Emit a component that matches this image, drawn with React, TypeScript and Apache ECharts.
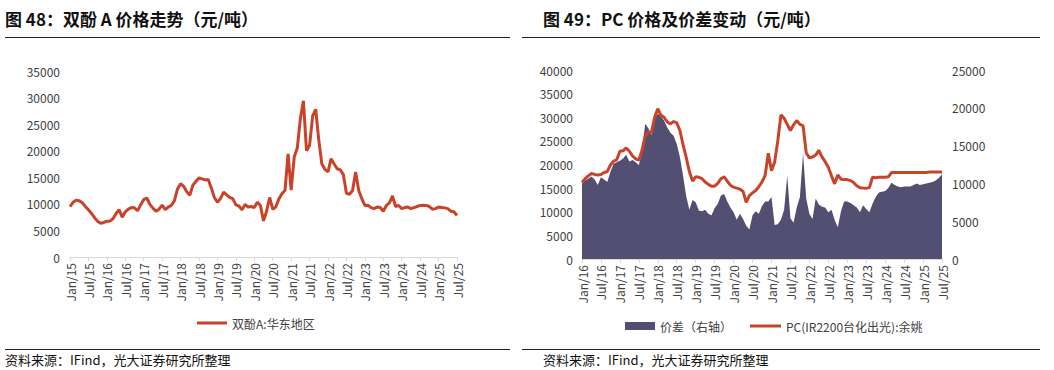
import React, { useEffect, useRef } from "react";
import * as echarts from "echarts";

const MONTH_NAMES = ["Jan", "Feb", "Mar", "Apr", "May", "Jun", "Jul", "Aug", "Sep", "Oct", "Nov", "Dec"];

// Left chart: 双酚A 华东地区, monthly Jan/15 - Jul/25 (元/吨)
const bpaPrice = [
  9500, 10300, 10700, 10600, 10200, 9500, 8900, 8200, 7400, 6700, 6350, 6500,
  6750, 6750, 7200, 8200, 8900, 7500, 8500, 9000, 9300, 9250, 8700, 9800,
  10800, 11100, 9900, 9200, 8600, 9000, 9750, 8900, 9400, 9700, 10600, 12800,
  13800, 13300, 12300, 11600, 13500, 14200, 14900, 14700, 14500, 14600, 13000, 11200,
  10300, 11000, 12200, 11700, 11200, 11000, 9800, 9600, 8900, 9900, 9400, 9500,
  9300, 10300, 9700, 6800, 8600, 11200, 9000, 9400, 10900, 11900, 12500, 19400,
  12600, 18800, 20500, 26000, 29400, 20000, 21000, 26500, 27800, 22000, 17500, 16500,
  16000, 18500, 17500, 16600, 16400, 15500, 12000, 11800, 12500, 16000, 12500, 11000,
  9700, 9750, 9300, 9100, 9400, 9300, 8600, 9700, 10200, 11500, 9500, 9700,
  9100, 9300, 9400, 9100, 9300, 9500, 9700, 9750, 9700, 9500, 9000, 9100,
  9400, 9300, 9250, 9100, 8600, 8500, 7800,
];

// Right chart: PC price (left axis) and spread (right axis), monthly Jan/16 - Jul/25
const pcPrice = [
  16200, 17000, 17600, 18100, 17900, 17800, 17900, 18300, 18500, 19900, 20700, 21000,
  22800, 22900, 23500, 22800, 21800, 21200, 20900, 23000, 26000, 26900, 26800, 30000,
  31800, 30400, 30000, 29000, 28600, 29100, 28800, 27200, 24200, 21500, 18500, 16500,
  17400, 17300, 17000, 16300, 15800, 15400, 15400, 16000, 17000, 17400, 16500, 15600,
  15200, 15000, 14800, 14300, 12000, 13400, 14000, 14500, 15300, 16300, 17700, 22400,
  18700, 20500, 25000, 30500, 29800, 28500, 27200, 28400, 29300, 28500, 28200, 22500,
  21400, 21600, 22000, 23000, 21600, 20600, 19400, 17600, 15900, 17800, 16900, 16800,
  16800, 16600, 16200, 15500, 15100, 15000, 14950, 15100, 17300, 17200, 17300, 17300,
  17300, 17400, 18300, 18300, 18300, 18300, 18300, 18300, 18300, 18300, 18300, 18300,
  18300, 18300, 18400, 18400, 18400, 18400, 18400,
];

const pcSpread = [
  10000, 10400, 10600, 10900, 10500, 9800, 10800, 10500, 10200, 11500, 12600, 12800,
  13000, 13300, 13800, 12900, 13100, 12800, 12400, 14200, 17900, 17300, 16400, 18600,
  19200, 18900, 18300, 17400, 16700, 16300, 15200, 13500, 11000, 8300, 6500, 7800,
  7500, 6400, 6300, 6500, 6000, 5800, 6700, 7300, 8400, 8600, 7600, 6800,
  6200, 5200, 6000, 5300, 4400, 3900, 5800, 6300, 6000, 7000, 7600, 7600,
  8200, 4500, 4600, 5200, 6500, 11000, 5400, 4800, 6800, 8200, 14000, 8000,
  6000, 5300, 8000, 7200, 6900, 6800, 6200, 6500, 5200, 4200, 6300, 7600,
  7600, 7400, 7100, 6800, 6200, 7100, 6600, 6200, 7300, 8200, 8800, 8900,
  9000, 9400, 10100, 9800, 9600, 9500, 9600, 9600, 9600, 9800, 10000, 9800,
  9900, 10000, 10100, 10200, 10400, 10700, 11200,
];

const leftTicks = [0, 5000, 10000, 15000, 20000, 25000, 30000, 35000];
const rightLeftTicks = [0, 5000, 10000, 15000, 20000, 25000, 30000, 35000, 40000];
const rightRightTicks = [0, 5000, 10000, 15000, 20000, 25000];

const leftTitle = "图 48：双酚 A 价格走势（元/吨）";
const rightTitle = "图 49：PC 价格及价差变动（元/吨）";
const sourceText = "资料来源：IFind，光大证券研究所整理";
const bpaName = "双酚A:华东地区";
const spreadName = "价差（右轴）";
const pcName = "PC(IR2200台化出光):余姚";

function monthLabels(startYear: number, count: number): string[] {
  const out: string[] = [];
  for (let i = 0; i < count; i++) {
    const y = startYear + Math.floor(i / 12);
    out.push(MONTH_NAMES[i % 12] + "/" + String(y % 100).padStart(2, "0"));
  }
  return out;
}

const leftCats = monthLabels(2015, bpaPrice.length);
const rightCats = monthLabels(2016, pcPrice.length);

const FONT = '"Noto Sans CJK SC", "Noto Sans", sans-serif';
const RED = "#C8432A";
const NAVY = "#534F73";
const LABEL = "#404040";
const AXIS = "#d9d9d9";

const every6 = (i: number) => i % 6 === 0;

function xAxisCfg(grid: number, data: string[]) {
  return {
    type: "category",
    gridIndex: grid,
    data,
    boundaryGap: false,
    axisLine: { show: true, lineStyle: { color: AXIS, width: 1 } },
    axisTick: { show: true, interval: every6, length: 4, lineStyle: { color: AXIS } },
    axisLabel: {
      interval: every6,
      rotate: 90,
      color: LABEL,
      fontSize: 12,
      fontFamily: FONT,
      margin: 6,
    },
    splitLine: { show: false },
  };
}

function yAxisCfg(grid: number, ticks: number[], position: string, margin: number) {
  return {
    type: "value",
    gridIndex: grid,
    position,
    min: ticks[0],
    max: ticks[ticks.length - 1],
    interval: ticks[1] - ticks[0],
    axisLine: { show: false },
    axisTick: { show: false },
    splitLine: { show: false },
    axisLabel: {
      color: LABEL,
      fontSize: 12,
      fontFamily: FONT,
      margin,
      formatter: (v: number) => String(v),
    },
  };
}

export default function App() {
  const ref = useRef<HTMLDivElement>(null);

  useEffect(() => {
    if (!ref.current) return;
    const chart = echarts.init(ref.current, undefined, { renderer: "svg" });
    const option: any = {
      animation: false,
      textStyle: { fontFamily: FONT },
      grid: [
        { left: 70, top: 71, width: 387, height: 186 },
        { left: 582, top: 70, width: 360, height: 189 },
      ],
      xAxis: [xAxisCfg(0, leftCats), xAxisCfg(1, rightCats)],
      yAxis: [
        yAxisCfg(0, leftTicks, "left", 10),
        yAxisCfg(1, rightLeftTicks, "left", 9),
        yAxisCfg(1, rightRightTicks, "right", 10),
      ],
      legend: [
        {
          data: [bpaName],
          left: 192,
          top: 312,
          icon: "rect",
          itemWidth: 30,
          itemHeight: 3,
          textStyle: { color: LABEL, fontSize: 12, fontFamily: FONT },
        },
        {
          data: [spreadName],
          left: 620,
          top: 315,
          icon: "rect",
          itemWidth: 30,
          itemHeight: 8,
          textStyle: { color: LABEL, fontSize: 12, fontFamily: FONT },
        },
        {
          data: [pcName],
          left: 745,
          top: 315,
          icon: "rect",
          itemWidth: 31,
          itemHeight: 3,
          textStyle: { color: LABEL, fontSize: 12, fontFamily: FONT },
        },
      ],
      series: [
        {
          name: bpaName,
          type: "line",
          xAxisIndex: 0,
          yAxisIndex: 0,
          data: bpaPrice,
          showSymbol: false,
          color: RED,
          lineStyle: { color: RED, width: 3 },
        },
        {
          name: spreadName,
          type: "line",
          xAxisIndex: 1,
          yAxisIndex: 2,
          data: pcSpread,
          showSymbol: false,
          color: NAVY,
          lineStyle: { width: 0 },
          areaStyle: { color: NAVY, opacity: 1 },
          z: 1,
        },
        {
          name: pcName,
          type: "line",
          xAxisIndex: 1,
          yAxisIndex: 1,
          data: pcPrice,
          showSymbol: false,
          color: RED,
          lineStyle: { color: RED, width: 3 },
          z: 3,
        },
      ],
      graphic: [
        {
          type: "text",
          x: 5,
          y: 18,
          style: { text: leftTitle, fontSize: 17, fontWeight: "bold", fontFamily: FONT, fill: "#111", verticalAlign: "middle" },
        },
        {
          type: "text",
          x: 543,
          y: 18,
          style: { text: rightTitle, fontSize: 17, fontWeight: "bold", fontFamily: FONT, fill: "#111", verticalAlign: "middle" },
        },
        { type: "line", shape: { x1: 5, y1: 37.5, x2: 510, y2: 37.5 }, style: { stroke: "#222", lineWidth: 1 } },
        { type: "line", shape: { x1: 522, y1: 37.5, x2: 1040, y2: 37.5 }, style: { stroke: "#222", lineWidth: 1 } },
        { type: "line", shape: { x1: 5, y1: 349.5, x2: 510, y2: 349.5 }, style: { stroke: "#222", lineWidth: 1 } },
        { type: "line", shape: { x1: 522, y1: 349.5, x2: 1040, y2: 349.5 }, style: { stroke: "#222", lineWidth: 1 } },
        {
          type: "text",
          x: 5,
          y: 359,
          style: { text: sourceText, fontSize: 13, fontFamily: FONT, fill: "#111", verticalAlign: "middle" },
        },
        {
          type: "text",
          x: 543,
          y: 359,
          style: { text: sourceText, fontSize: 13, fontFamily: FONT, fill: "#111", verticalAlign: "middle" },
        },
      ],
    };
    chart.setOption(option);
    return () => chart.dispose();
  }, []);

  return (
    <div
      ref={ref}
      style={{ position: "absolute", left: 0, top: 0, width: 1054, height: 370, background: "#fff" }}
    />
  );
}
